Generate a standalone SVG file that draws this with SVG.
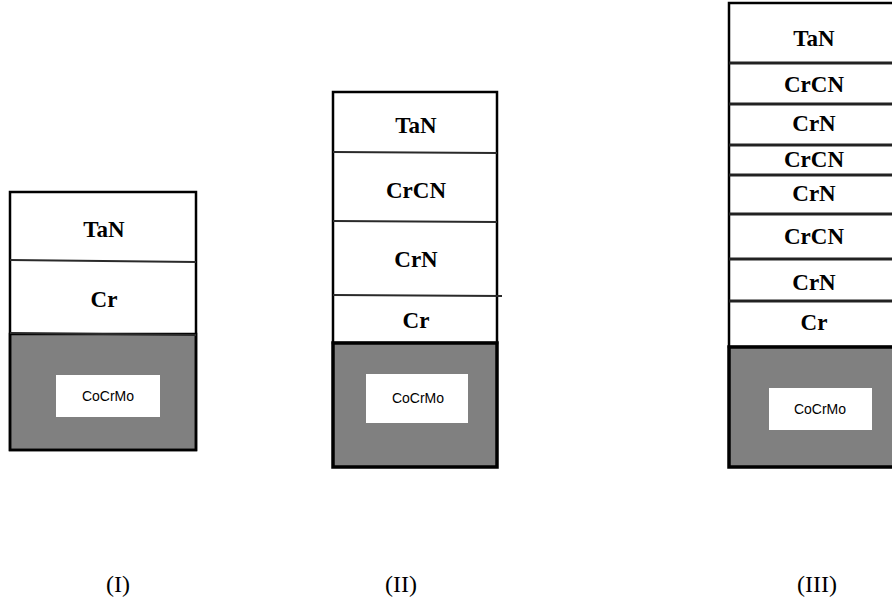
<svg xmlns="http://www.w3.org/2000/svg" width="892" height="602" viewBox="0 0 892 602">
<style>
.bg{fill:#ffffff}
.layer{fill:#ffffff;stroke:none}
.frame{fill:none;stroke:#000000;stroke-width:2.5}
.sub{fill:#808080;stroke:#000000;stroke-width:2.5}
.subthick{fill:#808080;stroke:#000000;stroke-width:3.5}
.sep{stroke:#2a2a2a;stroke-width:2.2;fill:none}
.sep3{stroke:#222222;stroke-width:3;fill:none}
.lbl{font-family:"Liberation Serif","Times New Roman",serif;font-weight:bold;font-size:23px;fill:#000;text-anchor:middle;dominant-baseline:central}
.box{fill:#ffffff;stroke:none}
.boxtxt{font-family:"Liberation Sans",Arial,sans-serif;font-size:14px;fill:#000;text-anchor:middle;dominant-baseline:central}
.cap{font-family:"Liberation Serif","Times New Roman",serif;font-size:24px;fill:#000;text-anchor:middle}
</style>
<rect class="bg" x="0" y="0" width="892" height="602"/>

<g id="stack-I">
  <rect class="layer" x="10" y="192" width="186" height="142"/>
  <rect class="sub" x="10" y="334" width="186" height="116"/>
  <rect class="frame" x="10" y="192" width="186" height="258"/>
  <line class="sep" x1="10" y1="260" x2="196" y2="262"/>
  <line class="sep" x1="10" y1="333" x2="196" y2="335"/>
  <text class="lbl" x="104" y="229">TaN</text>
  <text class="lbl" x="104" y="299">Cr</text>
  <rect class="box" x="56" y="375" width="104" height="42"/>
  <text class="boxtxt" x="108" y="396">CoCrMo</text>
</g>

<g id="stack-II">
  <rect class="layer" x="333" y="92" width="164" height="251"/>
  <rect class="frame" x="333" y="92" width="164" height="251"/>
  <rect class="subthick" x="333" y="343" width="164" height="124"/>
  <line class="sep" x1="333" y1="152" x2="497" y2="153"/>
  <line class="sep" x1="333" y1="221" x2="497" y2="222"/>
  <line class="sep" x1="333" y1="295" x2="502" y2="296"/>
  <text class="lbl" x="416" y="125">TaN</text>
  <text class="lbl" x="416" y="190">CrCN</text>
  <text class="lbl" x="416" y="259">CrN</text>
  <text class="lbl" x="416" y="320">Cr</text>
  <rect class="box" x="366" y="374" width="102" height="49"/>
  <text class="boxtxt" x="418" y="398">CoCrMo</text>
</g>

<g id="stack-III">
  <rect class="layer" x="729" y="3" width="170" height="344"/>
  <rect class="frame" x="729" y="3" width="170" height="344"/>
  <rect class="subthick" x="729" y="347" width="170" height="120"/>
  <line class="sep3" x1="729" y1="63" x2="899" y2="63"/>
  <line class="sep3" x1="729" y1="104" x2="899" y2="104"/>
  <line class="sep3" x1="729" y1="145" x2="899" y2="145"/>
  <line class="sep3" x1="729" y1="175" x2="899" y2="175"/>
  <line class="sep3" x1="729" y1="214" x2="899" y2="214"/>
  <line class="sep3" x1="729" y1="259" x2="899" y2="259"/>
  <line class="sep3" x1="729" y1="301" x2="899" y2="301"/>
  <text class="lbl" x="814" y="38">TaN</text>
  <text class="lbl" x="814" y="84">CrCN</text>
  <text class="lbl" x="814" y="123">CrN</text>
  <text class="lbl" x="814" y="159">CrCN</text>
  <text class="lbl" x="814" y="193">CrN</text>
  <text class="lbl" x="814" y="236">CrCN</text>
  <text class="lbl" x="814" y="282">CrN</text>
  <text class="lbl" x="814" y="322">Cr</text>
  <rect class="box" x="769" y="388" width="103" height="42"/>
  <text class="boxtxt" x="820" y="409">CoCrMo</text>
</g>

<g id="captions">
  <text class="cap" x="118" y="592">(I)</text>
  <text class="cap" x="401" y="592">(II)</text>
  <text class="cap" x="817" y="592">(III)</text>
</g>
</svg>
